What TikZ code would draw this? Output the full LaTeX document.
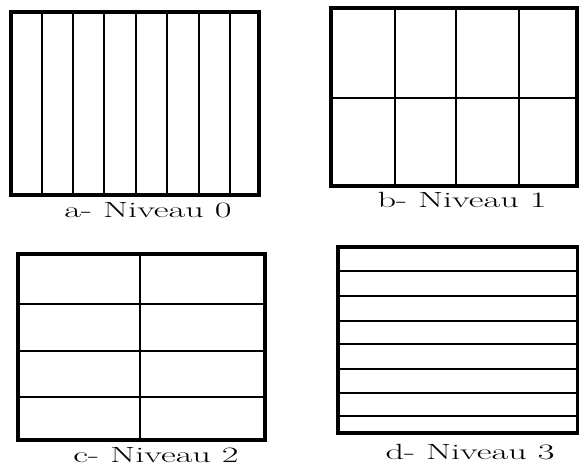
\documentclass[tikz,border=0pt]{standalone}
\begin{document}
\begin{tikzpicture}[x=1pt,y=-1pt,
  frame/.style={line width=3.2pt},
  thickline/.style={line width=2.8pt},
  thinline/.style={line width=1.6pt},
  lab/.style={inner sep=0pt,font=\fontsize{22}{26}\selectfont}]
\useasboundingbox (0,0) rectangle (579,476);
% a- Niveau 0
\foreach \x in {42,104,136,167,199} \draw[thickline] (\x,12) -- (\x,195);
\foreach \x in {73,230} \draw[thinline] (\x,12) -- (\x,195);
\draw[frame] (11,12) rectangle (259,195);
\node[lab] (la) at (148,210) {\scalebox{1.65}[1]{a- Niveau 0}};
% b- Niveau 1
\draw[thinline] (331,98) -- (577,98);
\foreach \x in {395,456} \draw[thinline] (\x,8) -- (\x,186);
\draw[thickline] (519,8) -- (519,186);
\draw[frame] (331,8) rectangle (577,186);
\node[lab] (lb) at (462,200) {\scalebox{1.65}[1]{b- Niveau 1}};
% c- Niveau 2
\foreach \y in {304,351,397} \draw[thickline] (18,\y) -- (265,\y);
\draw[thickline] (140,254) -- (140,440);
\draw[frame] (18,254) rectangle (265,440);
\node[lab] (lc) at (156,455) {\scalebox{1.65}[1]{c- Niveau 2}};
% d- Niveau 3
\foreach \y in {271,296,344,369,393,416} \draw[thickline] (338,\y) -- (578,\y);
\draw[thinline] (338,321) -- (578,321);
\draw[frame] (338,247) rectangle (578,433);
\node[lab] (ld) at (470,452) {\scalebox{1.65}[1]{d- Niveau 3}};
\end{tikzpicture}
\end{document}
